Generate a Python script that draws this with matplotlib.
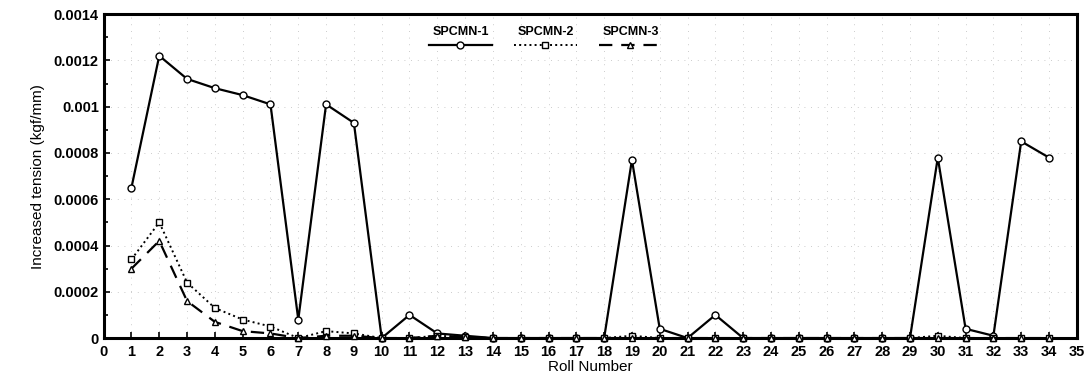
import numpy as np
import matplotlib.pyplot as plt
from matplotlib.offsetbox import VPacker
from matplotlib.ticker import MultipleLocator

plt.rcParams['font.family'] = ['Liberation Sans', 'DejaVu Sans']

rolls = np.arange(1, 35)
spcmn1 = [0.00065, 0.00122, 0.00112, 0.00108, 0.00105, 0.00101, 0.00008, 0.00101, 0.00093, 0.0,
          0.00010, 0.00002, 0.00001, 0.0, 0.0, 0.0, 0.0, 0.0, 0.00077, 0.00004,
          0.0, 0.00010, 0.0, 0.0, 0.0, 0.0, 0.0, 0.0, 0.0, 0.00078,
          0.00004, 0.00001, 0.00085, 0.00078]
spcmn2 = [0.00034, 0.00050, 0.00024, 0.00013, 0.00008, 0.00005, 0.0, 0.00003, 0.00002, 0.0,
          0.0, 0.00001, 0.000005, 0.0, 0.0, 0.0, 0.0, 0.0, 0.00001, 0.0,
          0.0, 0.0, 0.0, 0.0, 0.0, 0.0, 0.0, 0.0, 0.0, 0.00001,
          0.0, 0.0, 0.0, 0.0]
spcmn3 = [0.00030, 0.00042, 0.00016, 0.00007, 0.00003, 0.00002, 0.0, 0.00001, 0.00001, 0.0,
          0.0, 0.00001, 0.000005, 0.0, 0.0, 0.0, 0.0, 0.0, 0.0, 0.0,
          0.0, 0.0, 0.0, 0.0, 0.0, 0.0, 0.0, 0.0, 0.0, 0.0,
          0.0, 0.0, 0.0, 0.0]

fig, ax = plt.subplots(figsize=(10.91, 3.82), dpi=100)
fig.subplots_adjust(left=0.095, right=0.987, top=0.963, bottom=0.115)

mk = dict(markersize=5, markerfacecolor='white', markeredgecolor='black',
          markeredgewidth=1.0, clip_on=False, zorder=3)
ax.plot(rolls, spcmn1, '-', color='black', lw=1.6, marker='o', label='SPCMN-1', **mk)
ax.plot(rolls, spcmn2, ':', color='black', lw=1.4, marker='s', label='SPCMN-2', **mk)
ax.plot(rolls, spcmn3, '--', color='black', lw=1.6, marker='^', label='SPCMN-3',
        dashes=(6, 4), **mk)

ax.set_xlim(0, 35)
ax.set_ylim(0, 0.0014)
ax.xaxis.set_major_locator(MultipleLocator(1))
ax.yaxis.set_major_locator(MultipleLocator(0.0002))
ax.yaxis.set_minor_locator(MultipleLocator(0.0001))
ax.yaxis.set_major_formatter(plt.FuncFormatter(lambda v, p: ('%.4f' % v).rstrip('0').rstrip('.') if v else '0'))
ax.tick_params(axis='both', which='both', direction='in', labelsize=10.5, width=1.2)
ax.tick_params(axis='both', which='major', length=4)
ax.tick_params(axis='x', which='major', pad=5)
ax.tick_params(axis='y', which='minor', length=3)
for lab in ax.get_xticklabels() + ax.get_yticklabels():
    lab.set_fontweight('bold')

ax.grid(True, which='major', color='#bbbbbb', linestyle=(0, (1, 7)), lw=0.6)
for s in ax.spines.values():
    s.set_linewidth(2.2)

ax.set_xlabel('Roll Number', fontsize=11, labelpad=1)
ax.set_ylabel('Increased tension (kgf/mm)', fontsize=11, labelpad=6)

leg = ax.legend(ncol=3, loc='upper center', bbox_to_anchor=(0.454, 0.995), frameon=False,
                fontsize=9, handlelength=5.0, columnspacing=1.8, borderpad=0.3)
for t in leg.get_texts():
    t.set_fontweight('bold')
# put each label above its line sample
for col in leg._legend_handle_box.get_children():
    for row in col.get_children():
        row.__class__ = VPacker
        row._children = row._children[::-1]
        row.align = 'center'
        row.sep = 2

fig.savefig('out.png', dpi=100)
